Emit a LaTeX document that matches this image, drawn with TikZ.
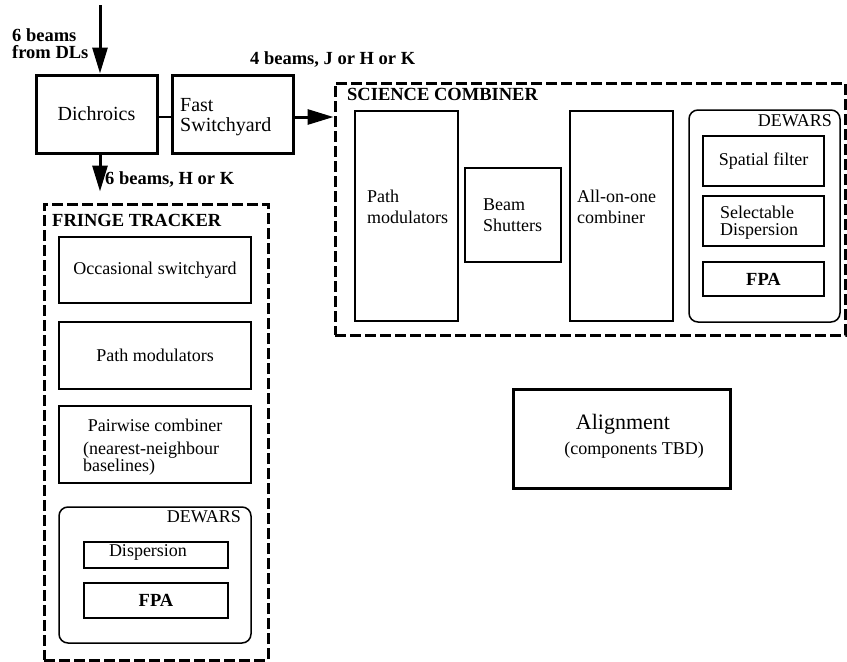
\documentclass[tikz,border=0pt]{standalone}
\usepackage{fontspec}
\setmainfont{Liberation Serif}
\usetikzlibrary{arrows.meta}
\begin{document}
\begin{tikzpicture}[x=1pt,y=-1pt,
 box/.style={draw, line width=3pt, inner sep=0pt},
 ibox/.style={draw, line width=1.5pt, inner sep=0pt},
 dbox/.style={draw, line width=3pt, dash pattern=on 11pt off 4pt, inner sep=0pt},
 rbox/.style={draw, line width=1.5pt, rounded corners=9pt, inner sep=0pt},
 mtxt/.style={font=\fontsize{20}{20}\selectfont, inner sep=0pt},
 txt/.style={font=\fontsize{18}{21}\selectfont, inner sep=0pt},
 ttxt/.style={font=\fontsize{18}{17}\selectfont, inner sep=0pt},
 btxt/.style={font=\fontsize{18.5}{17}\selectfont\bfseries, inner sep=0pt},
 bigtxt/.style={font=\fontsize{22}{24}\selectfont, inner sep=0pt},
 bigarrow/.style={line width=3pt, -{Triangle[length=26pt,width=15pt]}},
]
\useasboundingbox (0,0) rectangle (847,662);

% top blocks
\coordinate (src) at (100,5);
\node[box, minimum width=121pt, minimum height=78pt, mtxt] (dich) at (96.5,114) {Dichroics};
\node[box, minimum width=121pt, minimum height=78pt] (fast) at (232.5,114) {};
\node[mtxt, align=left, anchor=west] (fastt) at (180,117) {Fast\\Switchyard};

% science combiner
\node[dbox, minimum width=510pt, minimum height=252pt] (sc) at (590,209) {};
\node[btxt, anchor=west] (sct) at (347,94) {SCIENCE COMBINER};
\node[ibox, minimum width=103pt, minimum height=210pt] (pm) at (406.5,216) {};
\node[txt, align=left, anchor=west] (pmt) at (367,207) {Path\\modulators};
\node[ibox, minimum width=96pt, minimum height=94pt] (bs) at (513,215) {};
\node[txt, align=left, anchor=west] (bst) at (483,215) {Beam\\Shutters};
\node[ibox, minimum width=103pt, minimum height=210pt] (aoo) at (621.5,216) {};
\node[txt, align=left, anchor=west] (aoot) at (577,207) {All-on-one\\combiner};
\node[rbox, minimum width=151pt, minimum height=212pt] (dew) at (764.5,216) {};
\node[txt, anchor=east] (dewt) at (832,121) {DEWARS};
\node[ibox, minimum width=121pt, minimum height=50pt, txt] (sf) at (763.5,161) {Spatial filter};
\node[ibox, minimum width=121pt, minimum height=50pt] (sd) at (763.5,221) {};
\node[ttxt, align=left, anchor=west] (sdt) at (720,223) {Selectable\\Dispersion};
\node[ibox, minimum width=121pt, minimum height=34pt, btxt] (fpa) at (763.5,279) {FPA};

% fringe tracker
\node[dbox, minimum width=224pt, minimum height=456pt] (ft) at (156,432) {};
\node[btxt, anchor=west] (ftt) at (52,220) {FRINGE TRACKER};
\node[ibox, minimum width=192pt, minimum height=66pt, txt] (os) at (155,270) {Occasional switchyard};
\node[ibox, minimum width=192pt, minimum height=67pt, txt] (pmf) at (155,355.5) {Path modulators};
\node[ibox, minimum width=192pt, minimum height=77pt] (pw) at (155,444.5) {};
\node[txt] (pwt) at (155,425) {Pairwise combiner};
\node[ttxt, align=left, anchor=west] (pwt2) at (83,458.5) {(nearest-neighbour\\baselines)};
\node[rbox, minimum width=192pt, minimum height=136pt] (dewf) at (155,575) {};
\node[txt, anchor=east] (dewft) at (241,517) {DEWARS};
\node[ibox, minimum width=144pt, minimum height=26pt] (disp) at (156,555) {};
\node[txt] (dispt) at (148,552) {Dispersion};
\node[ibox, minimum width=144pt, minimum height=35pt, btxt] (fpaf) at (156,600.5) {FPA};

% alignment
\node[box, minimum width=217pt, minimum height=99pt] (al) at (621.5,438.5) {};
\node[bigtxt] (alt) at (623,424) {Alignment};
\node[txt] (alt2) at (634,450) {(components TBD)};

% connectors
\draw[bigarrow] (src) -- (src |- dich.north);
\draw[line width=1.2pt] ([yshift=-3pt]dich.east) -- ([yshift=-3pt]fast.west);
\draw[bigarrow] ([yshift=-3pt]fast.east) -- ([yshift=-3pt]fast.east -| sc.west);
\draw[bigarrow, shorten >=11pt] (src |- dich.south) -- (src |- ft.north);

% labels
\node[btxt, align=left, anchor=west] (l1) at (12,44) {6 beams\\from DLs};
\node[btxt, anchor=west] (l2) at (250,60) {4 beams, J or H or K};
\node[btxt, anchor=west] (l3) at (105,180) {6 beams, H or K};
\end{tikzpicture}
\end{document}
